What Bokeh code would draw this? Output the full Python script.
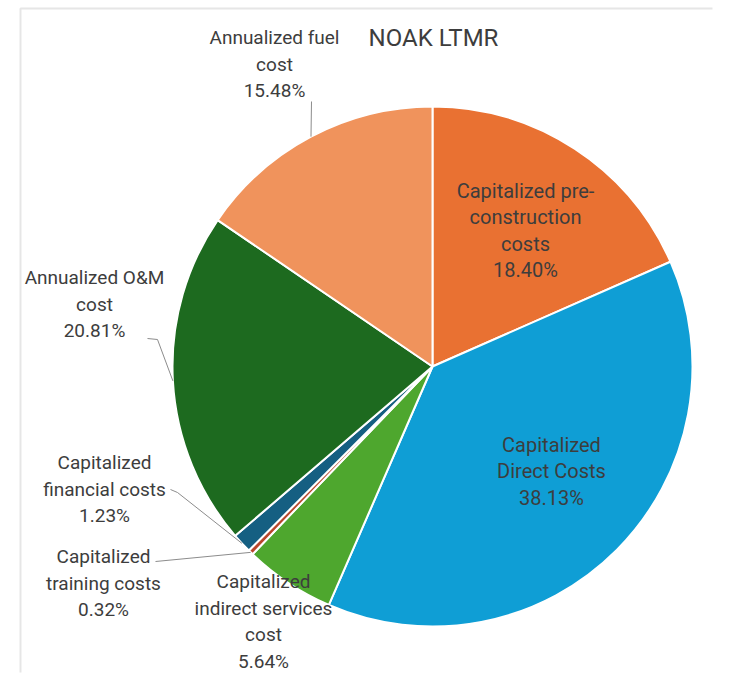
import numpy as np
from bokeh.plotting import figure
from bokeh.models import Range1d, ColumnDataSource
from bokeh.embed import file_html
from bokeh.resources import INLINE
from bokeh.core.properties import value

# ---------------- data ----------------
title = "NOAK LTMR"
categories = [
    "Capitalized pre-construction costs",
    "Capitalized Direct Costs",
    "Capitalized indirect services cost",
    "Capitalized training costs",
    "Capitalized financial costs",
    "Annualized O&M cost",
    "Annualized fuel cost",
]
percent = [18.40, 38.13, 5.64, 0.32, 1.23, 20.81, 15.48]
label_name_lines = [
    ["Capitalized pre-", "construction", "costs"],
    ["Capitalized", "Direct Costs"],
    ["Capitalized", "indirect services", "cost"],
    ["Capitalized", "training costs"],
    ["Capitalized", "financial costs"],
    ["Annualized O&M", "cost"],
    ["Annualized fuel", "cost"],
]
colors = ["#E97132", "#0F9ED5", "#4EA72E", "#B8452B", "#155F82", "#1D6A1F", "#F0935C"]
inside = [True, True, False, False, False, False, False]

# ---------------- layout ----------------
W, H = 730, 675
cx, cy, R = 432, H - 366, 260
FONT = "Roboto"
TXT = "#3d3d3d"
LH = 26.5
# (center x, first-line y in image px) for each label
label_pos = [(525, 190), (551, 444), (263, 581), (103, 556), (104, 462), (94, 277), (274, 37)]
# leader start points (image px); None = inside label
leader_start = [None, None, None, [(155, 561)], [(170, 489), (177, 492)], [(147, 338), (157, 339)], [(311, 101)]]

p = figure(width=W, height=H, output_backend="svg", toolbar_location=None,
           x_range=Range1d(0, W), y_range=Range1d(0, H), min_border=0)
p.axis.visible = False
p.grid.visible = False
p.outline_line_color = None
p.background_fill_color = "white"
p.border_fill_color = "white"

# faint frame
p.line(x=[20, 20, 712], y=[H - 672, H - 8, H - 8], line_color="#e6e6e6", line_width=2)

frac = np.array(percent) / np.sum(percent)
cum = np.concatenate([[0.0], np.cumsum(frac)])
start = np.pi / 2 - 2 * np.pi * cum[:-1]
end = np.pi / 2 - 2 * np.pi * cum[1:]
mid = (start + end) / 2

src = ColumnDataSource(dict(x=[cx] * len(percent), y=[cy] * len(percent),
                            start=start, end=end, color=colors, cat=categories))
p.wedge(x="x", y="y", radius=R, start_angle="start", end_angle="end",
        direction="clock", fill_color="color", line_color="white", line_width=2, source=src)

# leader lines
lx, ly = [], []
for i, st in enumerate(leader_start):
    if st is None:
        continue
    xs = [a for a, b in st] + [cx + R * np.cos(mid[i])]
    ys = [H - b for a, b in st] + [cy + R * np.sin(mid[i])]
    lx.append(xs)
    ly.append(ys)
p.multi_line(xs=lx, ys=ly, line_color="#8c8c8c", line_width=1)

# labels
for want_inside, size in ((False, "19px"), (True, "20px")):
    tx, ty, tt = [], [], []
    for i, lines in enumerate(label_name_lines):
        if inside[i] != want_inside:
            continue
        allines = lines + [f"{percent[i]:.2f}%"]
        x0, y0 = label_pos[i]
        for k, s in enumerate(allines):
            tx.append(x0)
            ty.append(H - (y0 + k * LH))
            tt.append(s)
    p.text(x=tx, y=ty, text=tt, text_align="center", text_baseline="middle",
           text_font=value(FONT), text_font_size=size, text_color=TXT)

p.text(x=[433], y=[H - 37], text=[title], text_align="center", text_baseline="middle",
       text_font=value(FONT), text_font_size="24px", text_color=TXT)

open("out.html", "w").write(file_html(p, INLINE))
